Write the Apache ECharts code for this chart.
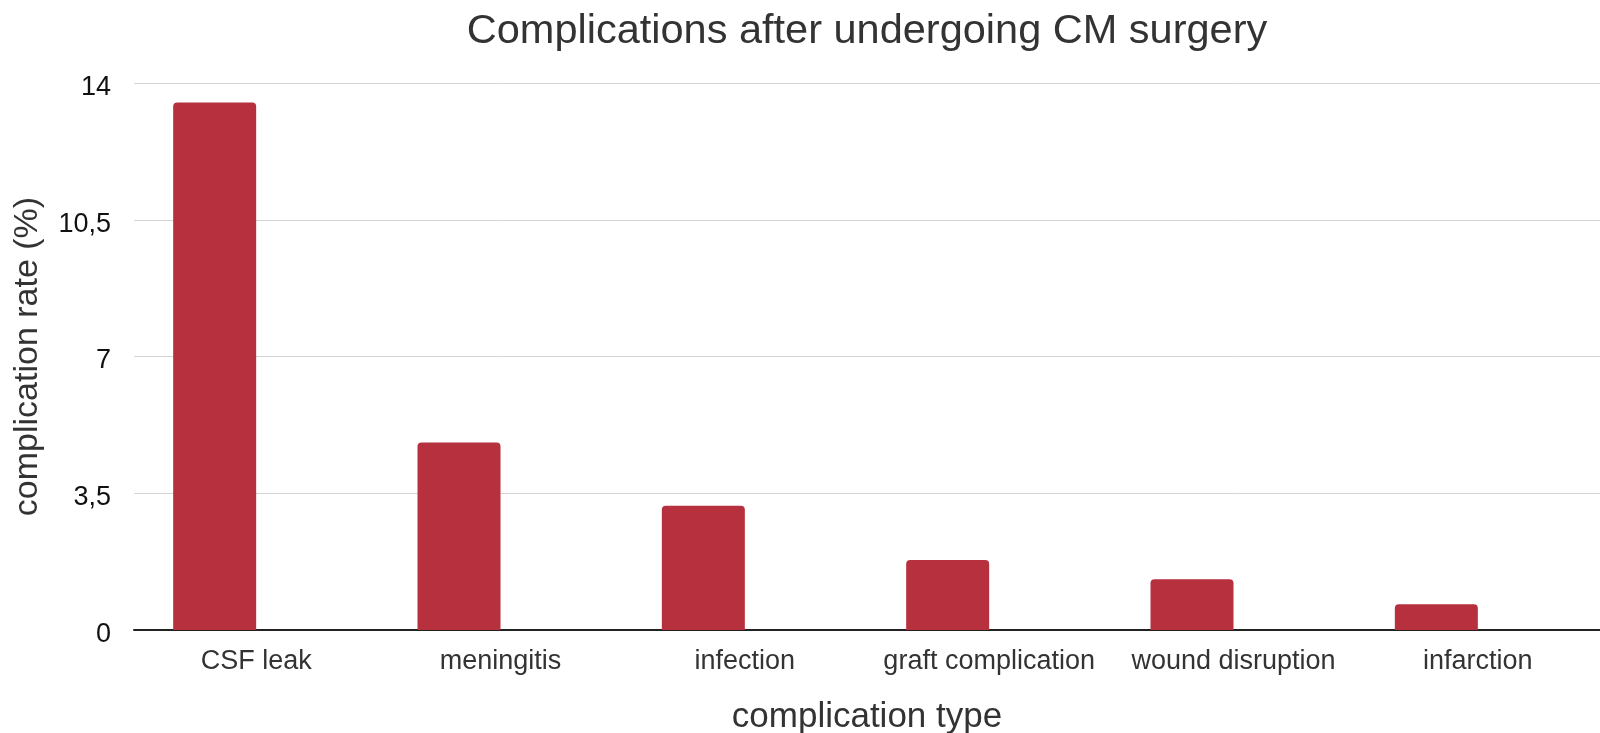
<!DOCTYPE html>
<html>
<head>
<meta charset="utf-8">
<script src="https://cdn.jsdelivr.net/npm/echarts@6/dist/echarts.min.js"></script>
<style>
html,body{margin:0;padding:0;background:#fff;}
#chart{width:1600px;height:733px;}
</style>
</head>
<body>
<div id="chart"></div>
<script>
const categories = ['CSF leak', 'meningitis', 'infection', 'graft complication', 'wound disruption', 'infarction'];
const complicationRate = [13.5, 4.8, 3.18, 1.79, 1.3, 0.66];
const emptySeries = [null, null, null, null, null, null];
const yTicks = [0, 3.5, 7, 10.5, 14];

const chart = echarts.init(document.getElementById('chart'), null, {renderer: 'canvas'});
const FONT = '"Liberation Sans", Arial, sans-serif';
chart.setOption({
  animation: false,
  backgroundColor: '#ffffff',
  title: {
    text: 'Complications after undergoing CM surgery',
    left: 862,
    top: 6,
    textAlign: 'center',
    textStyle: {fontFamily: FONT, fontSize: 41.5, fontWeight: 'normal', color: '#333333'}
  },
  grid: {left: 134, right: 0, top: 83, bottom: 103, containLabel: false, outerBoundsMode: 'none'},
  xAxis: {
    type: 'category',
    data: categories,
    name: 'complication type',
    nameLocation: 'middle',
    nameGap: 70,
    nameTextStyle: {fontFamily: FONT, fontSize: 35, color: '#333333'},
    axisLine: {lineStyle: {color: '#222222', width: 2}},
    axisTick: {show: false},
    axisLabel: {fontFamily: FONT, fontSize: 27, color: '#333333', margin: 18, interval: 0}
  },
  yAxis: {
    type: 'value',
    min: yTicks[0],
    max: yTicks[yTicks.length - 1],
    interval: yTicks[1] - yTicks[0],
    name: 'complication rate (%)',
    nameLocation: 'middle',
    nameGap: 89,
    nameTextStyle: {fontFamily: FONT, fontSize: 34, color: '#333333'},
    axisLine: {show: false},
    axisTick: {show: false},
    splitLine: {lineStyle: {color: '#d4d4d4', width: 1}},
    axisLabel: {
      margin: 23,
      formatter: v => '{t|' + String(v).replace('.', ',') + '}',
      rich: {
        t: {fontFamily: FONT, fontSize: 27, color: '#111111', padding: [9, 0, 0, 0]}
      }
    }
  },
  series: [
    {
      name: 'complication rate',
      type: 'bar',
      data: complicationRate,
      barWidth: 83,
      barGap: '0%',
      itemStyle: {color: '#b7303e', borderRadius: [4, 4, 0, 0]}
    },
    {
      name: '',
      type: 'bar',
      data: emptySeries,
      barWidth: 83,
      barGap: '0%',
      itemStyle: {color: '#b7303e'}
    }
  ]
});
</script>
</body>
</html>
